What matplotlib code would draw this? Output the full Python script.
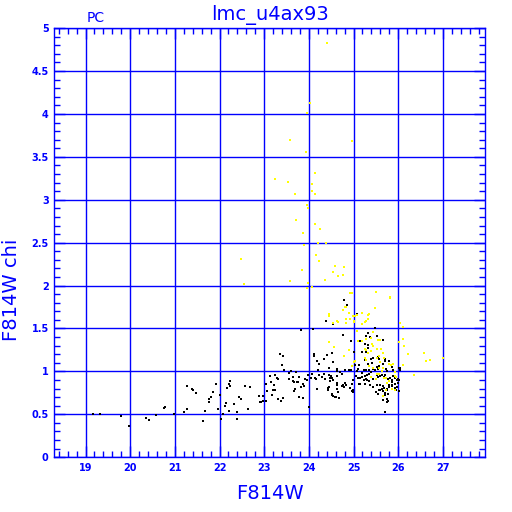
import matplotlib
matplotlib.use("Agg")
import matplotlib.pyplot as plt
from matplotlib.ticker import MultipleLocator
import numpy as np

# black points: F814W vs F814W chi
black_pts = [
    (19.16, 0.505), (19.33, 0.505), (19.79, 0.48), (19.97, 0.365), (20.35, 0.46),
    (20.41, 0.43), (20.58, 0.49), (20.76, 0.575), (20.79, 0.585), (20.99, 0.505),
    (21.21, 0.525), (21.28, 0.56), (21.28, 0.83), (21.39, 0.80), (21.40, 0.785),
    (21.48, 0.745), (21.64, 0.42), (21.67, 0.535), (21.77, 0.675), (21.80, 0.70),
    (21.77, 0.64), (21.86, 0.757), (21.93, 0.85), (21.96, 0.56), (22.01, 0.73),
    (22.03, 0.44), (22.07, 0.50), (22.12, 0.595), (22.14, 0.63), (22.17, 0.81),
    (22.22, 0.85), (22.23, 0.89), (22.22, 0.535), (22.23, 0.835), (22.33, 0.62),
    (22.38, 0.532), (22.38, 0.446), (22.43, 0.70), (22.49, 0.675), (22.56, 0.835),
    (22.64, 0.563), (22.69, 0.823), (22.89, 0.710), (22.92, 0.644), (22.98, 0.718),
    (22.90, 0.645), (22.97, 0.655), (23.05, 0.65), (23.04, 0.854), (23.07, 0.773),
    (23.16, 0.881), (23.19, 0.784), (23.23, 0.839), (23.24, 0.78), (23.17, 0.73),
    (23.28, 0.924), (23.31, 0.916), (23.14, 0.95), (23.25, 0.96), (23.39, 1.072),
    (23.35, 1.20), (23.41, 1.18), (23.45, 1.013), (23.31, 0.675), (23.37, 0.655),
    (23.43, 0.69), (23.55, 0.982), (23.55, 0.912), (23.60, 1.0), (23.65, 0.932),
    (23.64, 0.885), (23.67, 0.875), (23.68, 0.80), (23.66, 0.77), (23.71, 0.994),
    (23.73, 0.88), (23.76, 0.88), (23.78, 0.936), (23.78, 0.70), (23.83, 0.82),
    (23.87, 0.69), (23.87, 0.858), (23.88, 0.83), (23.91, 0.909), (23.92, 0.91),
    (23.96, 0.905), (23.99, 0.96), (23.82, 1.48), (24.00, 0.585), (24.04, 0.924),
    (24.07, 0.975), (24.10, 1.495), (24.12, 1.185), (24.12, 1.20), (24.13, 0.925),
    (24.14, 0.928), (24.17, 0.916), (24.19, 1.125), (24.21, 1.015), (24.18, 0.80),
    (24.23, 1.09), (24.23, 0.963), (24.29, 0.936), (24.34, 1.15), (24.34, 0.965),
    (24.35, 0.916), (24.35, 0.91), (24.38, 1.585), (24.41, 1.19), (24.42, 0.788),
    (24.42, 0.805), (24.44, 1.04), (24.45, 0.819), (24.46, 0.963), (24.48, 0.920),
    (24.47, 0.885), (24.50, 0.95), (24.51, 1.21), (24.51, 0.734), (24.52, 0.928),
    (24.52, 0.73), (24.53, 1.55), (24.54, 0.90), (24.55, 1.11), (24.55, 0.710),
    (24.59, 0.703), (24.61, 0.703), (24.62, 0.944), (24.62, 0.865), (24.63, 1.005),
    (24.64, 1.029), (24.64, 0.839), (24.64, 0.800), (24.65, 0.765), (24.68, 0.69),
    (24.70, 0.994), (24.74, 0.967), (24.74, 0.835), (24.77, 1.425), (24.77, 0.84),
    (24.79, 1.833), (24.79, 0.819), (24.80, 1.013), (24.80, 0.866), (24.83, 0.843),
    (24.85, 1.775), (24.89, 1.013), (24.92, 0.808), (24.94, 1.021), (24.95, 1.352),
    (24.96, 0.773), (24.97, 0.858), (24.98, 0.897), (24.98, 0.781), (24.98, 0.758),
    (25.00, 1.223), (25.04, 1.076), (25.06, 0.944), (25.07, 1.670), (25.07, 1.002),
    (25.11, 1.029), (25.11, 0.920), (25.13, 1.076), (25.13, 0.859), (25.15, 1.359),
    (25.15, 0.858), (25.15, 0.924), (25.18, 1.223), (25.18, 0.982), (25.18, 0.936),
    (25.23, 1.013), (25.23, 0.897), (25.25, 1.130), (25.25, 0.944), (25.26, 1.317),
    (25.26, 0.858), (25.27, 1.414), (25.28, 1.017), (25.29, 1.223), (25.29, 0.917),
    (25.31, 0.963), (25.31, 0.897), (25.32, 1.445), (25.32, 1.309), (25.32, 1.083),
    (25.33, 1.274), (25.34, 1.021), (25.35, 0.971), (25.35, 0.889), (25.37, 1.406),
    (25.37, 0.84), (25.38, 1.150), (25.40, 0.998), (25.40, 0.932), (25.41, 1.099),
    (25.44, 1.153), (25.44, 1.029), (25.44, 0.916), (25.44, 0.82), (25.47, 1.511),
    (25.49, 1.013), (25.50, 0.761), (25.52, 1.410), (25.52, 0.963), (25.52, 0.839),
    (25.53, 1.049), (25.55, 1.165), (25.55, 1.033), (25.55, 0.936), (25.55, 0.742),
    (25.56, 0.780), (25.57, 1.064), (25.58, 1.150), (25.59, 0.944), (25.59, 0.846),
    (25.59, 0.781), (25.63, 0.959), (25.63, 0.800), (25.65, 1.091), (25.65, 0.831),
    (25.65, 0.773), (25.67, 1.363), (25.67, 0.664), (25.68, 0.936), (25.69, 0.812),
    (25.70, 1.150), (25.70, 0.722), (25.71, 1.126), (25.71, 0.963), (25.71, 0.749),
    (25.71, 0.528), (25.73, 1.029), (25.74, 0.800), (25.74, 0.683), (25.74, 0.645),
    (25.76, 1.002), (25.76, 0.78), (25.77, 0.652), (25.77, 0.742), (25.78, 0.912),
    (25.79, 1.118), (25.79, 0.885), (25.79, 0.839), (25.80, 0.82), (25.81, 0.928),
    (25.85, 1.052), (25.85, 0.905), (25.86, 0.878), (25.86, 0.831), (25.87, 0.84),
    (25.89, 1.013), (25.89, 0.944), (25.92, 0.858), (25.93, 0.928), (25.93, 0.804),
    (25.96, 0.781), (25.97, 0.897), (25.97, 0.819), (26.00, 0.916), (26.00, 0.862),
    (26.01, 0.898), (26.02, 0.773), (26.02, 1.04), (26.03, 1.041), (26.04, 1.013),
]

# yellow points
yellow_pts = [
    (24.41, 4.829), (24.02, 4.130), (23.96, 4.014), (23.57, 3.695), (24.96, 3.687),
    (23.94, 3.555), (24.13, 3.314), (23.25, 3.244), (23.54, 3.213), (24.07, 3.182),
    (24.07, 3.104), (24.13, 3.066), (23.68, 3.073), (23.96, 2.941), (23.99, 2.906),
    (23.72, 2.763), (24.13, 2.720), (24.25, 2.662), (23.87, 2.615), (23.90, 2.471),
    (24.20, 2.502), (24.38, 2.498), (22.47, 2.312), (24.16, 2.362), (24.22, 2.289),
    (23.84, 2.180), (24.58, 2.223), (24.79, 2.219), (24.53, 2.157), (24.65, 2.110),
    (24.76, 2.126), (24.36, 2.071), (23.58, 2.055), (22.54, 2.017), (23.99, 2.036),
    (24.06, 1.986), (23.96, 1.974), (24.93, 1.915), (24.96, 1.915), (25.51, 1.931),
    (25.82, 1.869), (25.82, 1.853), (25.47, 1.737), (24.77, 1.721), (24.80, 1.752),
    (24.83, 1.752), (24.89, 1.682), (25.19, 1.682), (24.98, 1.643), (25.04, 1.651),
    (25.08, 1.659), (24.93, 1.612), (25.01, 1.589), (25.02, 1.574), (25.32, 1.659),
    (25.35, 1.667), (25.32, 1.605), (25.25, 1.581), (25.28, 1.589), (24.84, 1.612),
    (24.83, 1.566), (24.62, 1.589), (24.65, 1.581), (24.53, 1.566), (24.44, 1.666),
    (24.44, 1.643), (25.20, 1.558), (26.05, 1.566), (26.11, 1.519), (25.07, 1.473),
    (25.43, 1.457), (25.55, 1.364), (25.59, 1.364), (25.10, 1.356), (25.19, 1.356),
    (25.29, 1.379), (25.40, 1.395), (25.41, 1.317), (25.44, 1.294), (25.25, 1.263),
    (25.29, 1.255), (25.32, 1.216), (25.40, 1.232), (25.52, 1.263), (25.62, 1.263),
    (25.65, 1.216), (26.02, 1.340), (26.10, 1.379), (26.13, 1.294), (26.22, 1.201),
    (26.58, 1.216), (26.62, 1.123), (26.71, 1.131), (27.01, 1.153), (26.10, 1.076),
    (26.35, 0.960), (24.44, 1.344), (24.57, 1.286), (24.89, 1.247), (24.78, 1.177),
    (25.01, 1.115), (25.04, 1.123), (25.26, 1.162), (25.28, 1.131), (25.53, 1.162),
    (25.56, 1.177), (25.59, 1.115), (25.68, 1.162), (25.79, 1.084), (25.83, 1.076),
    (25.89, 1.084), (25.34, 1.061), (25.43, 1.045), (25.56, 1.045), (24.96, 1.068),
    (25.67, 1.038), (25.93, 0.991), (25.52, 0.967), (25.58, 0.967), (25.53, 0.975),
    (25.64, 1.006), (25.38, 0.929), (25.68, 0.921), (25.96, 0.936), (25.80, 0.890),
    (25.73, 0.921), (25.76, 0.867), (25.93, 0.944), (25.87, 0.797), (25.92, 0.781),
    (25.73, 0.789), (25.65, 0.711), (25.50, 0.913),
]

black_x, black_y = np.array(black_pts).T
yellow_x, yellow_y = np.array(yellow_pts).T

blue = "#0000ff"

fig = plt.figure(figsize=(5.12, 5.12), dpi=100)
ax = fig.add_axes([0.106, 0.107, 0.841, 0.838])

ax.plot(black_x, black_y, "s", color="black", ms=2.0, mew=0, zorder=3)
ax.plot(yellow_x, yellow_y, "s", color="#ffff00", ms=2.0, mew=0, zorder=3)

ax.set_xlim(18.3, 27.94)
ax.set_ylim(0, 5)
ax.xaxis.set_minor_locator(MultipleLocator(0.2))
ax.yaxis.set_minor_locator(MultipleLocator(0.1))
ax.set_xticks(np.arange(19, 28, 1))
ax.set_xticklabels([str(v) for v in range(19, 28)])
ax.set_yticks(np.arange(0, 5.01, 0.5))
ax.set_yticklabels(["0", "0.5", "1", "1.5", "2", "2.5", "3", "3.5", "4", "4.5", "5"])

ax.grid(True, which="major", color=blue, lw=1.0)
ax.set_axisbelow(True)
for sp in ax.spines.values():
    sp.set_color(blue)
    sp.set_linewidth(1.0)

ax.tick_params(which="both", direction="in", top=True, right=True, colors=blue,
               labelsize=7, width=1)
ax.tick_params(which="major", length=8, pad=4)
ax.tick_params(which="minor", length=4)
for lab in ax.get_xticklabels() + ax.get_yticklabels():
    lab.set_fontweight("bold")

ax.set_xlabel("F814W", color=blue, fontsize=14, labelpad=8)
ax.set_ylabel("F814W chi", color=blue, fontsize=14, va="center")
ax.yaxis.set_label_coords(-0.1, 0.39)

ax.text(0.5, 1.008, "lmc_u4ax93", transform=ax.transAxes, ha="center",
        va="bottom", color=blue, fontsize=14)
ax.text(0.074, 1.008, "PC", transform=ax.transAxes, ha="left",
        va="bottom", color=blue, fontsize=10)

fig.savefig("out.png", dpi=100)
